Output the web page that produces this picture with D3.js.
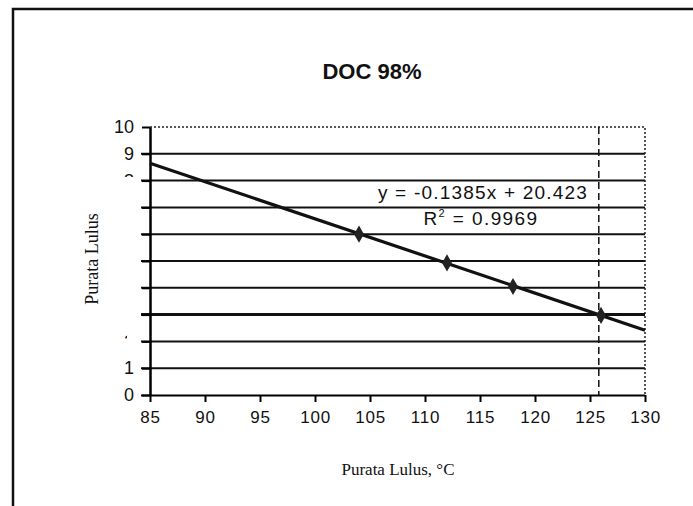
<!DOCTYPE html>
<html>
<head>
<meta charset="utf-8">
<script src="https://cdn.jsdelivr.net/npm/d3@7"></script>
<style>
  body { margin: 0; background: #fff; }
  svg { display: block; }
</style>
</head>
<body>
<div class="canvas"></div>
<script>
// data
const tempX = [104, 112, 118, 126];
const lulusY = [6.00, 4.93, 4.05, 2.97];
const trendCoef = [-0.1385, 20.423];   // slope, intercept as printed
const rSquared = 0.9969;
const xTicks = [85, 90, 95, 100, 105, 110, 115, 120, 125, 130];
const yTicks = [0, 1, 2, 3, 4, 5, 6, 7, 8, 9, 10];
const yShown = [0, 1, 2, 8, 9, 10];
const refX = 125.8;   // dashed vertical marker
const refY = 3;       // thick horizontal marker

const W = 693, H = 506;
const svg = d3.select('.canvas')
  .append('svg')
  .attr('width', W)
  .attr('height', H);
const defs = svg.append('defs');

const x = d3.scaleLinear().domain([85, 130]).range([150, 645]);
const y = d3.scaleLinear().domain([0, 10]).range([395, 127]);

const font = '"Liberation Sans", Arial, sans-serif';
const serif = '"Liberation Serif", "Times New Roman", serif';

// outer frame (left and top only survive in the scan)
svg.append('path')
    .attr('d', `M13,${H} L13,9 L${W},9`)
    .style('fill', 'none')
    .style('stroke', '#111')
    .style('stroke-width', 2.5);

svg.append('text')
    .attr('x', 372).attr('y', 79)
    .attr('text-anchor', 'middle')
    .style('font-family', font)
    .style('font-weight', 'bold')
    .style('font-size', '22px')
    .style('fill', '#111')
    .text('DOC 98%');

// gridlines
svg.append('g').selectAll('line')
  .data(yTicks.filter(d => d > 0 && d < 10))
  .join('line')
    .attr('x1', 141).attr('x2', x(130))
    .attr('y1', d => y(d)).attr('y2', d => y(d))
    .style('stroke', '#111')
    .style('stroke-width', d => d === refY ? 3 : 2);

// dotted top and right border of plot area
svg.append('path')
    .attr('d', `M${x(85)},${y(10)} L${x(130)},${y(10)} L${x(130)},${y(0)}`)
    .style('fill', 'none')
    .style('stroke', '#222')
    .style('stroke-width', 1.5)
    .style('stroke-dasharray', '2,2');

// dashed vertical line
svg.append('line')
    .attr('x1', x(refX)).attr('x2', x(refX))
    .attr('y1', y(10)).attr('y2', y(0))
    .style('stroke', '#111')
    .style('stroke-width', 1.5)
    .style('stroke-dasharray', '7,4');

// axes
const xAxis = svg.append('g')
    .attr('transform', `translate(0,${y(0)})`)
    .call(d3.axisBottom(x).tickValues(xTicks).tickSize(7).tickPadding(9).tickSizeOuter(0));
xAxis.select('.domain').style('stroke-width', 2).attr('d', `M141,0.5H${x(130)}`);
xAxis.selectAll('line').style('stroke-width', 2);
xAxis.selectAll('text')
    .style('font-family', font)
    .style('font-size', '17px')
    .style('letter-spacing', '0.8px')
    .style('fill', '#111');

const yAxis = svg.append('g')
    .attr('transform', `translate(${x(85)},0)`)
    .call(d3.axisLeft(y).tickValues(yTicks).tickSize(8).tickPadding(8).tickSizeOuter(0));
yAxis.select('.domain').style('stroke-width', 2.5);
yAxis.selectAll('line').style('stroke-width', 2);
yAxis.selectAll('.tick text')
    .style('font-family', font)
    .style('font-size', '18px')
    .style('fill', '#111')
    .style('display', d => yShown.includes(d) ? null : 'none');

// only a sliver of the 8 and 2 labels shows in the scan
yAxis.selectAll('.tick').filter(d => d === 8 || d === 2)
    .each(function (d) {
      const clipId = 'cl' + d;
      defs.append('clipPath').attr('id', clipId)
        .append('rect')
          .attr('x', d === 8 ? -40 : -30)
          .attr('y', d === 8 ? -8 : -7)
          .attr('width', d === 8 ? 40 : 7)
          .attr('height', d === 8 ? 4 : 6);
      d3.select(this).select('text').attr('clip-path', `url(#${clipId})`);
    });

// trend line from printed coefficients
const trend = [85, 130].map(v => [v, trendCoef[0] * v + trendCoef[1]]);
svg.append('path')
    .datum(trend)
    .attr('d', d3.line().x(d => x(d[0])).y(d => y(d[1])))
    .style('fill', 'none')
    .style('stroke', '#111')
    .style('stroke-width', 3.2);

// points
svg.append('g').selectAll('path')
  .data(tempX.map((v, i) => [v, lulusY[i]]))
  .join('path')
    .attr('transform', d => `translate(${x(d[0])},${y(d[1])})`)
    .attr('d', d3.symbol(d3.symbolDiamond, 85))
    .style('fill', '#222');

// equation
svg.append('text')
    .attr('x', 588).attr('y', 199)
    .attr('text-anchor', 'end')
    .style('font-family', font)
    .style('font-size', '19px')
    .style('letter-spacing', '1.2px')
    .style('fill', '#111')
    .text(`y = ${trendCoef[0]}x + ${trendCoef[1]}`);
const r2 = svg.append('text')
    .attr('x', 481).attr('y', 225)
    .attr('text-anchor', 'middle')
    .style('font-family', font)
    .style('font-size', '19px')
    .style('letter-spacing', '1.4px')
    .style('fill', '#111');
r2.append('tspan').text('R');
r2.append('tspan').attr('dy', -8).style('font-size', '11px').text('2');
r2.append('tspan').attr('dy', 8).text(` = ${rSquared}`);

// axis titles
svg.append('text')
    .attr('transform', 'translate(98,259) rotate(-90)')
    .attr('text-anchor', 'middle')
    .style('font-family', serif)
    .style('font-size', '18px')
    .style('fill', '#111')
    .text('Purata Lulus');

svg.append('text')
    .attr('x', 398).attr('y', 475)
    .attr('text-anchor', 'middle')
    .style('font-family', serif)
    .style('font-size', '17px')
    .style('fill', '#111')
    .text('Purata Lulus, °C');
</script>
</body>
</html>
